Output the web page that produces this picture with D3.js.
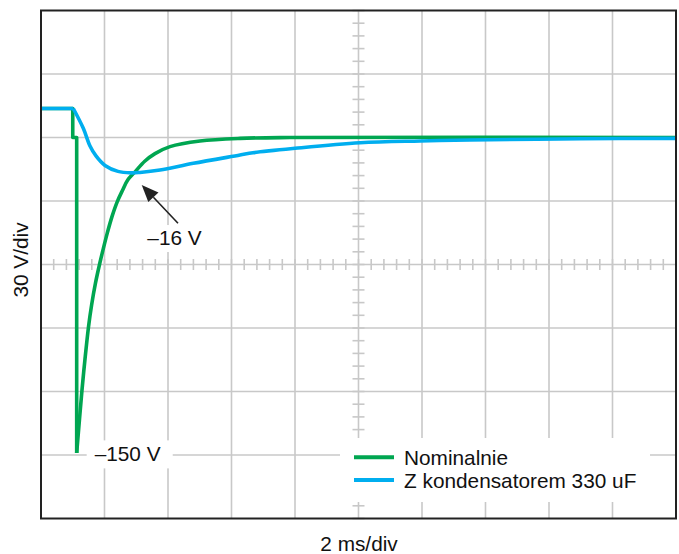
<!DOCTYPE html>
<html>
<head>
	<meta charset="utf-8">
	<title>Oscylogram</title>
	<style type="text/css">
		body { margin: 0; background: white; }
		text { font-family: "Liberation Sans", Arial, sans-serif; font-size: 20.8px; fill: #111; }
		.grid line { stroke: #c8c8c8; stroke-width: 1.6; }
		.minor line { stroke: #c8c8c8; stroke-width: 1.6; }
	</style>
</head>
<body>
<svg id="chart"></svg>
<script src="https://cdnjs.cloudflare.com/ajax/libs/d3/7.8.5/d3.min.js"></script>
<script type="text/javascript">
	// time in ms, voltage in V relative to the settled level
	var nominalT = [0, 1.0, 1.0, 1.124, 1.124, 1.291, 1.383, 1.496, 1.594, 1.717, 1.852, 1.953, 2.085, 2.236, 2.403, 2.573, 2.731, 2.939, 3.276, 3.591, 4.063, 5.008, 6.268, 7.84, 20];
	var nominalV = [13.7, 13.7, 0, 0, -149, -119.3, -105.1, -89.5, -79.1, -68.7, -59.4, -53.1, -45.3, -37.4, -30.3, -24.8, -20.1, -16.6, -11.1, -7.6, -4.3, -1.65, -0.4, 0, 0];
	var nominalSteps = 5; // first points are straight steps

	var capT = [0, 1.017, 1.332, 1.543, 1.732, 2.016, 2.425, 2.835, 3.118, 3.748, 4.797, 6.268, 6.677, 8.0, 10.05, 11.94, 13.51, 17, 20];
	var capV = [13.7, 13.7, 4.35, -4.0, -8.7, -13.2, -16.0, -16.7, -16.5, -15.4, -12.2, -8.3, -7.2, -5.1, -2.5, -1.65, -1.2, -0.6, -0.4];
	var capSteps = 2;

	var seriesNames = ["Nominalnie", "Z kondensatorem 330 uF"];
	var seriesColors = ["#00a651", "#00aeef"];

	var xDomain = [0, 20];      // 10 div x 2 ms
	var yDomain = [-180, 60];   // 8 div x 30 V

	var margin = {top: 10.5, left: 41, right: 3, bottom: 35.5},
		width = 635,
		height = 508;

	var svg = d3.select("#chart")
		.attr("width", 679)
		.attr("height", 554);

	var chart = svg.append("g")
		.attr("transform", `translate(${margin.left}, ${margin.top})`);

	var x = d3.scaleLinear().domain(xDomain).range([0, width]);
	var y = d3.scaleLinear().domain(yDomain).range([height, 0]);

	var xMajor = d3.range(xDomain[0], xDomain[1] + 0.001, 2);
	var yMajor = d3.range(yDomain[0], yDomain[1] + 0.001, 30);
	var xMinor = d3.range(xDomain[0], xDomain[1] + 0.001, 0.4);
	var yMinor = d3.range(yDomain[0], yDomain[1] + 0.001, 6);
	var xMid = 10, yMid = -60;

	// grid
	var grid = chart.append("g").attr("class", "grid");
	grid.selectAll(".vx").data(xMajor.slice(1, -1))
		.enter().append("line")
		.attr("x1", d => x(d)).attr("x2", d => x(d))
		.attr("y1", 0).attr("y2", height);
	grid.selectAll(".hy").data(yMajor.slice(1, -1))
		.enter().append("line")
		.attr("x1", 0).attr("x2", width)
		.attr("y1", d => y(d)).attr("y2", d => y(d));

	// minor ticks on center lines
	var minor = chart.append("g").attr("class", "minor");
	minor.selectAll(".mx").data(xMinor)
		.enter().append("line")
		.attr("x1", d => x(d)).attr("x2", d => x(d))
		.attr("y1", y(yMid) - 5.5).attr("y2", y(yMid) + 5.5);
	minor.selectAll(".my").data(yMinor)
		.enter().append("line")
		.attr("x1", x(xMid) - 6).attr("x2", x(xMid) + 6)
		.attr("y1", d => y(d)).attr("y2", d => y(d));

	// label backgrounds hide the grid
	var labelLayer = chart.append("g");

	// legend box
	var legendX = 299, legendY = 427.5;
	chart.append("rect")
		.attr("x", legendX).attr("y", legendY)
		.attr("width", 310).attr("height", 64)
		.attr("fill", "white");

	// traces
	var stepLine = d3.line().x(d => x(d[0])).y(d => y(d[1]));
	var smoothLine = d3.line().x(d => x(d[0])).y(d => y(d[1])).curve(d3.curveCatmullRom.alpha(0.5));

	function drawTrace(ts, vs, steps, color) {
		var pts = ts.map((t, i) => [t, vs[i]]);
		var g = chart.append("g")
			.attr("fill", "none")
			.attr("stroke", color)
			.attr("stroke-width", 3.6)
			.attr("stroke-linejoin", "round");
		g.append("path").attr("d", stepLine(pts.slice(0, steps)));
		g.append("path").attr("d", smoothLine(pts.slice(steps - 1)));
	}
	drawTrace(nominalT, nominalV, nominalSteps, seriesColors[0]);
	drawTrace(capT, capV, capSteps, seriesColors[1]);

	// annotations
	var minIdx = nominalV.indexOf(d3.min(nominalV));
	var px = x(nominalT[minIdx]), py = y(nominalV[minIdx]);
	var t150 = labelLayer.append("text")
		.attr("x", px + 18).attr("y", py + 8.5)
		.text("\u2013150 V");
	var b = t150.node().getBBox();
	labelLayer.insert("rect", "text")
		.attr("x", b.x - 8).attr("y", b.y - 2)
		.attr("width", b.width + 20).attr("height", b.height + 5)
		.attr("fill", "white");

	var arrowFrom = [4.315, -40.5], arrowTo = [3.172, -22.4];
	var t16 = labelLayer.append("text")
		.attr("x", x(4.205)).attr("y", y(-50.8))
		.attr("text-anchor", "middle")
		.text("\u201316 V");
	b = t16.node().getBBox();
	labelLayer.insert("rect", "text")
		.attr("x", b.x - 4).attr("y", b.y - 1)
		.attr("width", b.width + 8).attr("height", b.height + 4)
		.attr("fill", "white");
	chart.node().appendChild(labelLayer.node());

	var ax1 = x(arrowFrom[0]), ay1 = y(arrowFrom[1]),
		ax2 = x(arrowTo[0]), ay2 = y(arrowTo[1]);
	var ang = Math.atan2(ay2 - ay1, ax2 - ax1),
		headLen = 17, headW = 7;
	var bx = ax2 - headLen * Math.cos(ang), by = ay2 - headLen * Math.sin(ang);
	chart.append("line")
		.attr("x1", ax1).attr("y1", ay1).attr("x2", bx).attr("y2", by)
		.attr("stroke", "#222").attr("stroke-width", 1.6);
	chart.append("path")
		.attr("d", `M${ax2},${ay2}L${bx - headW * Math.sin(ang)},${by + headW * Math.cos(ang)}L${bx + headW * Math.sin(ang)},${by - headW * Math.cos(ang)}Z`)
		.attr("fill", "#222");

	// legend
	var legend = chart.selectAll(".legend").data(seriesNames)
		.enter().append("g")
		.attr("class", "legend")
		.attr("transform", (d, i) => `translate(${legendX + 14}, ${legendY + 19.3 + i * 22.8})`);
	legend.append("line")
		.attr("x1", 0).attr("x2", 40)
		.attr("stroke", (d, i) => seriesColors[i])
		.attr("stroke-width", 4);
	legend.append("text")
		.attr("x", 50).attr("y", 7.5)
		.text(d => d);

	// frame
	chart.append("rect")
		.attr("width", width).attr("height", height)
		.attr("fill", "none")
		.attr("stroke", "#222")
		.attr("stroke-width", 2);

	// axis titles
	svg.append("text")
		.attr("text-anchor", "middle")
		.attr("x", margin.left + width / 2 + 0.5)
		.attr("y", 551)
		.text("2 ms/div");

	svg.append("text")
		.attr("text-anchor", "middle")
		.attr("transform", "translate(28, 260) rotate(-90)")
		.text("30 V/div");
</script>
</body>
</html>
